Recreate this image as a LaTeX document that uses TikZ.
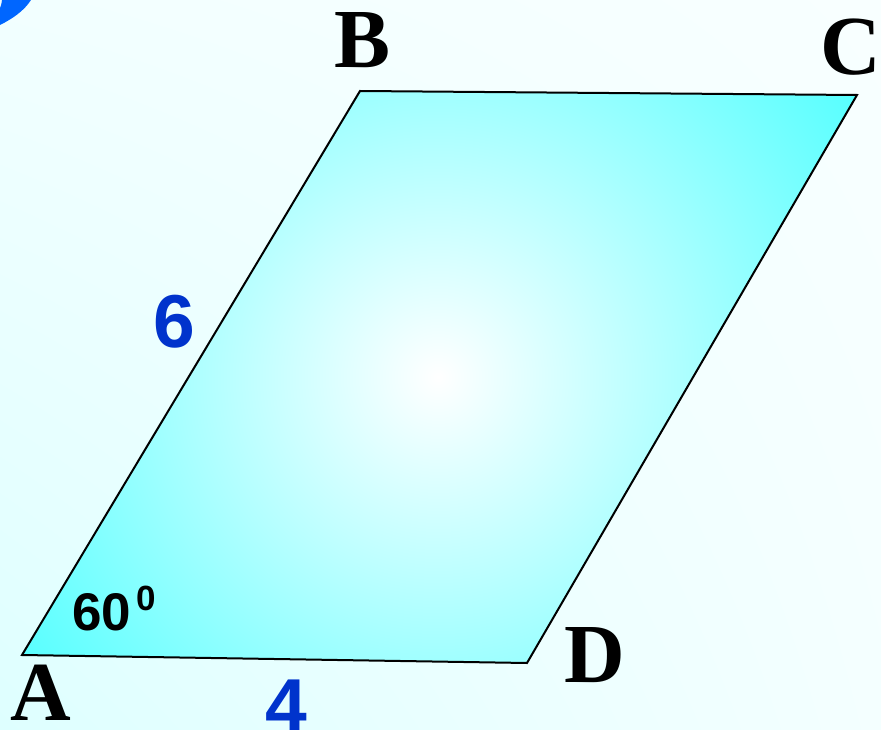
\documentclass[tikz,border=0pt]{standalone}
\usepackage{fontspec}
\usetikzlibrary{shadings}
\setmainfont{Liberation Serif}
\newfontfamily\numfont{Liberation Sans}
\definecolor{cornercyan}{RGB}{80,255,255}
\definecolor{bgul}{RGB}{242,255,255}
\definecolor{bgur}{RGB}{248,255,255}
\definecolor{bgll}{RGB}{222,255,255}
\definecolor{bglr}{RGB}{244,255,255}
\definecolor{numblue}{RGB}{0,51,204}
\definecolor{arcblue}{RGB}{0,102,255}
\pgfdeclareradialshading{parashade}{\pgfpoint{0bp}{0bp}}{color(0bp)=(white); color(25bp)=(cornercyan); color(50bp)=(cornercyan)}
\begin{document}
\begin{tikzpicture}[x=1pt,y=-1pt,
  vertex/.style={font=\bfseries\fontsize{84}{84}\selectfont, anchor=base, inner sep=0pt},
  sidelabel/.style={font=\numfont\bfseries\fontsize{75}{75}\selectfont, text=numblue, anchor=base, inner sep=0pt},
  anglelabel/.style={font=\numfont\bfseries\fontsize{53}{53}\selectfont, anchor=base west, inner sep=0pt},
  anglesup/.style={font=\numfont\bfseries\fontsize{35}{35}\selectfont, anchor=base west, inner sep=0pt},
  edge/.style={draw=black, line width=2pt, line join=miter}]
\useasboundingbox (0,0) rectangle (881,730);
\shade[upper left=bgul, upper right=bgur, lower left=bgll, lower right=bglr] (0,0) rectangle (881,730);
\fill[arcblue] (0,8) -- (0,25) .. controls (12,19) and (24,11) .. (31,0) -- (2,0) .. controls (1.5,4) and (1,6) .. cycle;
\coordinate (A) at (22,655);
\coordinate (B) at (360,91);
\coordinate (C) at (857,95);
\coordinate (D) at (527,663);
\coordinate (M) at (438,377);
\begin{scope}
  \clip (A) -- (B) -- (C) -- (D) -- cycle;
  \shade[shading=parashade] ([shift={(-525,-525)}]M) rectangle ([shift={(525,525)}]M);
\end{scope}
\draw[edge] (A) -- (B) -- (C) -- (D) -- cycle;
\node[vertex] (lA) at (41,720) {A};
\node[vertex] (lB) at (363,68) {B};
\node[vertex] (lC) at (851,75) {C};
\node[vertex] (lD) at (595,682) {D};
\node[sidelabel] (six) at (174,347) {6};
\node[sidelabel] (four) at (286,731) {4};
\node[anglelabel] (ang) at (72,630) {60};
\node[anglesup] (deg) at (136,610) {0};
\end{tikzpicture}
\end{document}
